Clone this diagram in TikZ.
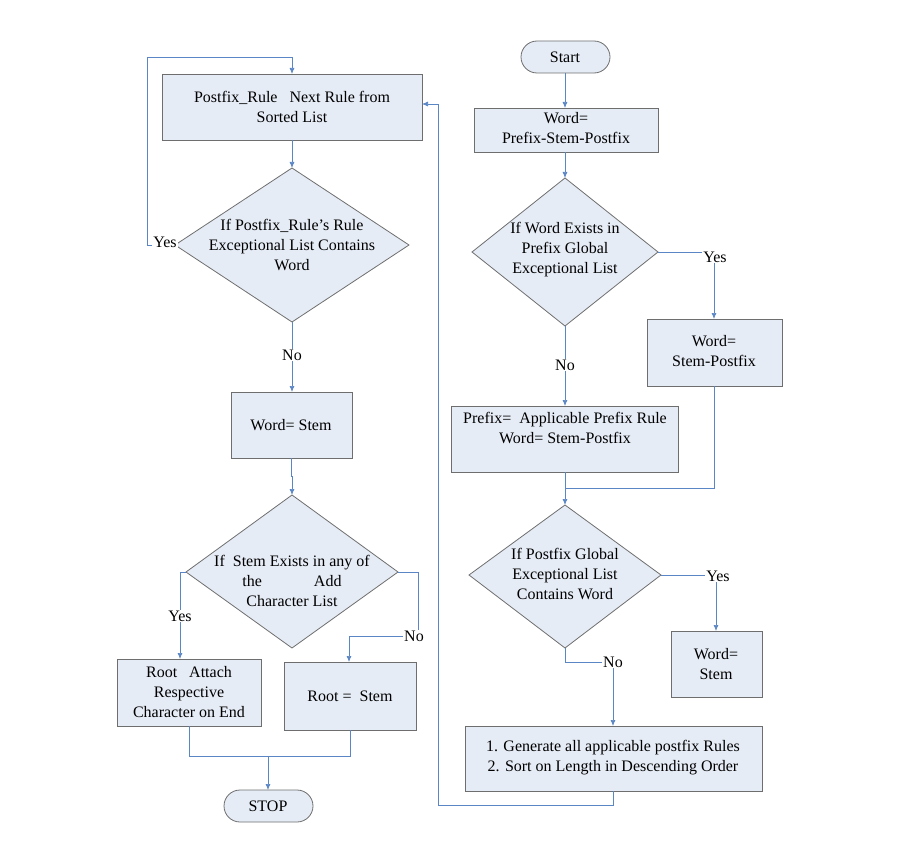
\documentclass[tikz,border=0pt]{standalone}
\usepackage{fontspec}
\setmainfont{Liberation Serif}
\usetikzlibrary{shapes.geometric,arrows.meta}
\definecolor{bfill}{HTML}{E6ECF6}
\definecolor{bdraw}{HTML}{6E6E6E}
\definecolor{arr}{HTML}{5B86C5}
\begin{document}
\begin{tikzpicture}[x=1pt,y=-1pt,
  every node/.style={font=\fontsize{16}{20}\selectfont},
  box/.style={draw=bdraw,fill=bfill,line width=0.8pt,align=center,inner sep=0pt},
  dia/.style={draw=bdraw,fill=bfill,line width=0.8pt},
  term/.style={draw=bdraw,fill=bfill,line width=0.8pt,rounded corners=16pt},
  ln/.style={draw=arr,line width=0.7pt},
  ar/.style={ln,-{Latex[length=6pt,width=5pt]}},
  lab/.style={fill=white,inner sep=1pt}]
\useasboundingbox (0,0) rectangle (900,864);
% shapes
\path[box] (162,74) rectangle (422,140);
\node[align=center] (b1) at (292,107) {Postfix\_Rule \enspace Next Rule from\\Sorted List};
\path[dia] (292,168) -- (409,245) -- (292,322) -- (175,245) -- cycle;
\node[align=center] (d1) at (292,245) {If Postfix\_Rule's Rule\\Exceptional List Contains\\Word};
\path[box] (231,392) rectangle (352,458);
\node (b2) at (291,425) {Word= Stem};
\path[dia] (292,495) -- (398,572) -- (292,648) -- (186,572) -- cycle;
\node[align=center] (d2) at (292,581) {If \ Stem Exists in any of\\the \qquad\quad Add\\Character List};
\path[box] (117,659) rectangle (261,726);
\node[align=center] (b3) at (189,692) {Root \enspace Attach\\Respective\\Character on End};
\path[box] (284,662) rectangle (416,730);
\node (b4) at (350,696) {Root = \ Stem};
\path[term] (224,790) rectangle (313,822);
\node (stop) at (268,806) {STOP};
\path[term] (521,41) rectangle (610,73);
\node (start) at (565,57) {Start};
\path[box] (474,108) rectangle (658,152);
\node[align=center] (b5) at (566,128) {Word=\\Prefix-Stem-Postfix};
\path[dia] (565,178) -- (658,252) -- (565,326) -- (472,252) -- cycle;
\node[align=center] (d3) at (565,250) {If Word Exists in\\Prefix Global\\Exceptional List};
\path[box] (647,319) rectangle (782,386);
\node[align=center] (b6) at (714,351) {Word=\\Stem-Postfix};
\path[box] (451,406) rectangle (678,472);
\node[align=center] (b7) at (565,428) {Prefix= \ Applicable Prefix Rule\\Word= Stem-Postfix};
\path[dia] (565,505) -- (661,575) -- (565,648) -- (469,575) -- cycle;
\node[align=center] (d4) at (565,574) {If Postfix Global\\Exceptional List\\Contains Word};
\path[box] (671,631) rectangle (762,697);
\node[align=center] (b8) at (716,664) {Word=\\Stem};
\path[box] (465,726) rectangle (762,791);
\node[align=center] (b9) at (613,758) {1. Generate all applicable postfix Rules\\2. Sort on Length in Descending Order};
% connectors left
\draw[ar] (292,140) -- (292,168);
\draw[ar] (175,245) -- (147,245) -- (147,57) -- (292,57) -- (292,74);
\node[lab] at (165,242) {Yes};
\draw[ar] (292,322) -- (292,392);
\node[lab] at (292,355) {No};
\draw[ar] (291,458) -- (291,476) -- (292,476) -- (292,495);
\draw[ar] (186,572) -- (180,572) -- (180,659);
\node[lab] at (180,616) {Yes};
\draw[ar] (398,572) -- (418,572) -- (418,636) -- (349,636) -- (349,662);
\node[lab] at (414,636) {No};
\draw[ln] (189,726) -- (189,756) -- (350,756) -- (350,730);
\draw[ar] (268,756) -- (268,790);
% connectors right
\draw[ar] (565,73) -- (565,108);
\draw[ar] (565,152) -- (565,178);
\draw[ar] (658,252) -- (714,252) -- (714,319);
\node[lab] at (715,257) {Yes};
\draw[ar] (565,326) -- (565,406);
\node[lab] at (565,365) {No};
\draw[ln] (714,386) -- (714,488) -- (566,488);
\draw[ar] (565,472) -- (565,505);
\draw[ar] (661,575) -- (716,575) -- (716,631);
\node[lab] at (718,576) {Yes};
\draw[ar] (565,648) -- (565,662) -- (613,662) -- (613,726);
\node[lab] at (613,662) {No};
\draw[ar] (613,791) -- (613,805) -- (438,805) -- (438,104) -- (422,104);
\end{tikzpicture}
\end{document}
